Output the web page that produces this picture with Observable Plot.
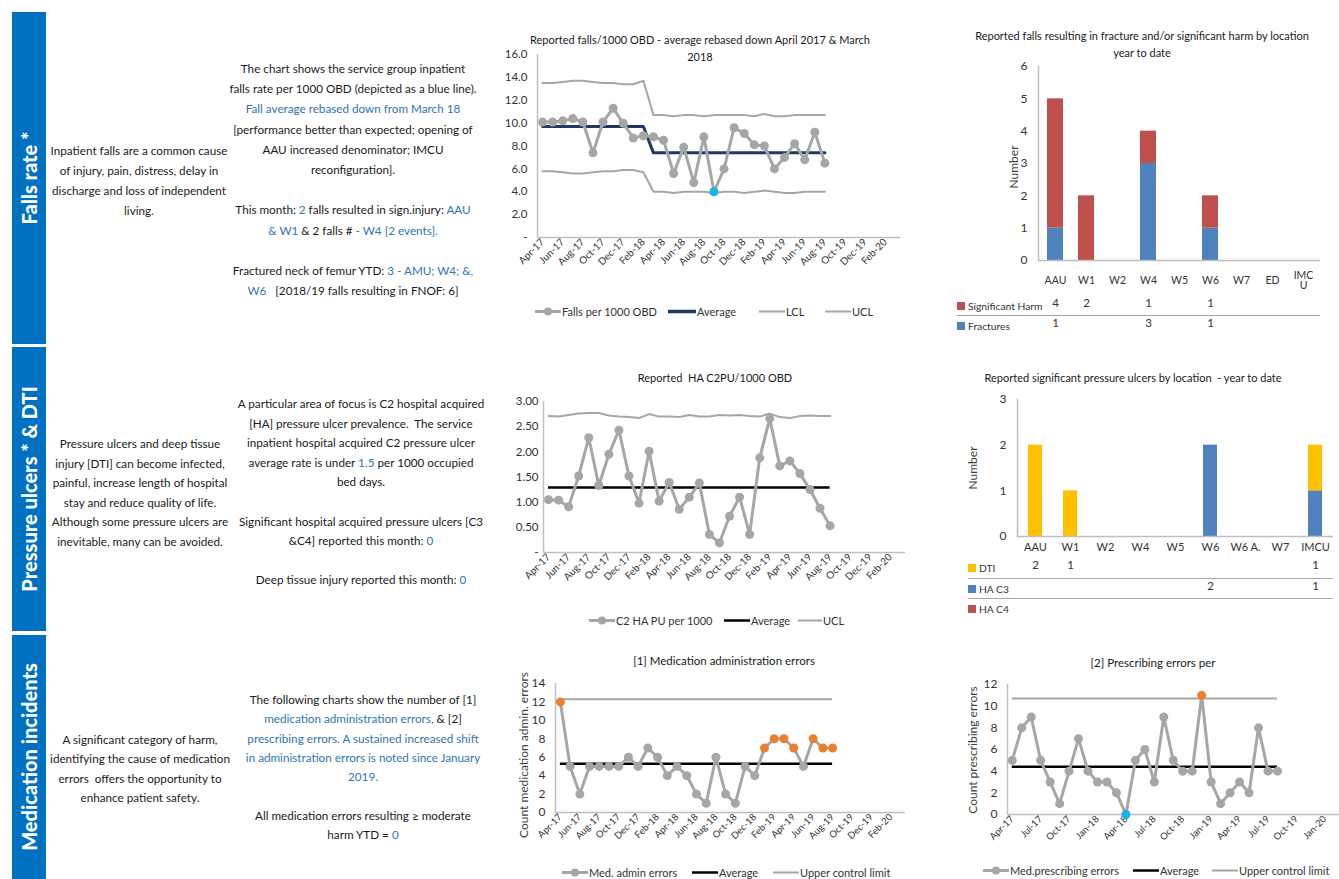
<!DOCTYPE html>
<html>
<head>
<meta charset="utf-8">
<script src="https://cdn.jsdelivr.net/npm/d3@7"></script>
<script src="https://cdn.jsdelivr.net/npm/@observablehq/plot@0.6"></script>
<style>
  body { margin: 0; width: 1339px; height: 879px; overflow: hidden; background: #fff; position: relative;
         font-family: Lato, "Open Sans", sans-serif; color: #1a1a1a; }
  .band { position: absolute; left: 12px; width: 34px; background: #0070c0; }
  .band span { position: absolute; left: 50%; top: 50%; transform: translate(-50%, -50%) rotate(-90deg);
               white-space: nowrap; color: #fff; font-weight: 900; font-size: 20px; }
  .para { position: absolute; text-align: center; font-size: 11.7px; white-space: nowrap; transform: translateX(-50%); }
  .b { color: #2e75b6; }
  .ttl { position: absolute; text-align: center; font-size: 11px; line-height: 17px; white-space: nowrap;
         transform: translate(-50%, -50%); color: #1a1a1a; }
  .leg { position: absolute; font-size: 11px; color: #333; display: flex; align-items: center; white-space: nowrap;
         transform: translateY(-50%); }
  .leg svg { margin-right: 1px; }
  .ytitle { position: absolute; white-space: nowrap; font-size: 12px; color: #404040; transform: translate(-50%, -50%) rotate(-90deg); }
  .row { position: absolute; font-size: 10.3px; color: #333; display: flex; align-items: center; transform: translateY(-50%); }
  .row i { display: inline-block; width: 8px; height: 8px; margin-right: 3px; }
  .sep { position: absolute; height: 0; border-top: 1.5px solid #a6a6a6; }
</style>
</head>
<body>

<div class="band" style="top:12px;height:332px"><span>Falls rate *</span></div>
<div class="band" style="top:347px;height:284px"><span>Pressure ulcers * &amp; DTI</span></div>
<div class="band" style="top:635px;height:244px"><span>Medication incidents</span></div>

<div class="para" style="left:139px;top:140px;line-height:20px">
Inpatient falls are a common cause<br>of injury, pain, distress, delay in<br>discharge and loss of independent<br>living.
</div>
<div class="para" style="left:353px;top:58px;line-height:20.2px">
The chart shows the service group inpatient<br>
falls rate per 1000 OBD (depicted as a blue line).<br>
<span class="b">Fall average rebased down from March 18</span><br>
[performance better than expected; opening of<br>
AAU increased denominator; IMCU<br>
reconfiguration].<br><br>
This month: <span class="b">2</span> falls resulted in sign.injury: <span class="b">AAU</span><br>
<span class="b">&amp; W1</span> &amp; 2 falls # <span class="b">- W4 [2 events].</span><br><br>
Fractured neck of femur YTD: <span class="b">3 - AMU; W4; &amp;,</span><br>
<span class="b">W6</span> &nbsp; [2018/19 falls resulting in FNOF: 6]
</div>

<div class="para" style="left:140px;top:434px;line-height:19.6px">
Pressure ulcers and deep tissue<br>injury [DTI] can become infected,<br>painful, increase length of hospital<br>stay and reduce quality of life.<br>Although some pressure ulcers are<br>inevitable, many can be avoided.
</div>
<div class="para" style="left:361px;top:394px;line-height:19.6px">
A particular area of focus is C2 hospital acquired<br>
[HA] pressure ulcer prevalence. &nbsp;The service<br>
inpatient hospital acquired C2 pressure ulcer<br>
average rate is under <span class="b">1.5</span> per 1000 occupied<br>
bed days.<br><br>
Significant hospital acquired pressure ulcers [C3<br>
&amp;C4] reported this month: <span class="b">0</span><br><br>
Deep tissue injury reported this month: <span class="b">0</span>
</div>

<div class="para" style="left:140px;top:730px;line-height:19.3px">
A significant category of harm,<br>identifying the cause of medication<br>errors &nbsp;offers the opportunity to<br>enhance patient safety.
</div>
<div class="para" style="left:363px;top:690px;line-height:19.3px">
The following charts show the number of [1]<br>
<span class="b">medication administration errors,</span> &amp; [2]<br>
<span class="b">prescribing errors. A sustained increased shift</span><br>
<span class="b">in administration errors is noted since January</span><br>
<span class="b">2019.</span><br><br>
All medication errors resulting &ge; moderate<br>
harm YTD = <span class="b">0</span>
</div>

<div class="ttl" style="left:700px;top:48px">Reported falls/1000 OBD - average rebased down April 2017 &amp; March<br>2018</div>
<div class="ttl" style="left:1142px;top:44px">Reported falls resulting in fracture and/or significant harm by location<br>year to date</div>
<div class="ttl" style="left:715px;top:377px">Reported &nbsp;HA C2PU/1000 OBD</div>
<div class="ttl" style="left:1133px;top:377px">Reported significant pressure ulcers by location &nbsp;- year to date</div>
<div class="ttl" style="left:724px;top:660px;font-size:11.5px">[1] Medication administration errors</div>
<div class="ttl" style="left:1153px;top:662px;font-size:11.5px">[2] Prescribing errors per</div>

<div class="ytitle" style="left:1013px;top:167px">Number</div>
<div class="ytitle" style="left:972px;top:468px">Number</div>
<div class="ytitle" style="left:523px;top:755px">Count medication admin. errors</div>
<div class="ytitle" style="left:972px;top:750px">Count prescribing errors</div>

<script>
// Shared month categories for the monthly run charts
const months = ["Apr-17","May-17","Jun-17","Jul-17","Aug-17","Sep-17","Oct-17","Nov-17","Dec-17",
  "Jan-18","Feb-18","Mar-18","Apr-18","May-18","Jun-18","Jul-18","Aug-18","Sep-18","Oct-18","Nov-18","Dec-18",
  "Jan-19","Feb-19","Mar-19","Apr-19","May-19","Jun-19","Jul-19","Aug-19","Sep-19","Oct-19","Nov-19","Dec-19",
  "Jan-20","Feb-20","Mar-20"];

// Falls per 1000 OBD
const fallsRate = [10.1,10.1,10.2,10.4,10.1,7.4,10.1,11.3,10.0,8.7,8.9,8.8,8.5,5.6,7.9,4.8,8.8,4.0,6.0,9.6,9.1,8.1,8.0,6.0,7.0,8.2,6.8,9.2,6.5];
const fallsAverage = [9.7,9.7,9.7,9.7,9.7,9.7,9.7,9.7,9.7,9.7,9.7,7.4,7.4,7.4,7.4,7.4,7.4,7.4,7.4,7.4,7.4,7.4,7.4,7.4,7.4,7.4,7.4,7.4,7.4];
const fallsUCL = [13.5,13.5,13.6,13.7,13.7,13.6,13.5,13.5,13.4,13.4,13.7,10.7,10.7,10.6,10.7,10.7,10.6,10.7,10.7,10.7,10.7,10.6,10.8,10.6,10.6,10.7,10.7,10.7,10.7];
const fallsLCL = [5.8,5.8,5.7,5.6,5.6,5.7,5.8,5.8,5.9,5.9,5.7,4.0,4.0,3.9,4.0,4.0,4.0,3.9,4.0,4.0,3.9,4.0,4.1,4.0,3.9,3.9,4.0,4.0,4.0];
const fallsLow = ["Sep-18"];

// Falls with fracture / significant harm by location
const fallLocations = ["AAU","W1","W2","W4","W5","W6","W7","ED","IMCU"];
const harmCounts = [4,2,0,1,0,1,0,0,0];
const fractureCounts = [1,0,0,3,0,1,0,0,0];

// C2 hospital acquired pressure ulcers per 1000 OBD
const puRate = [1.05,1.04,0.91,1.52,2.28,1.33,1.95,2.43,1.52,0.98,2.01,1.02,1.39,0.86,1.10,1.38,0.36,0.19,0.72,1.10,0.36,1.88,2.66,1.72,1.82,1.57,1.25,0.88,0.53];
const puUCL = [2.71,2.70,2.73,2.76,2.77,2.77,2.72,2.70,2.69,2.67,2.75,2.70,2.70,2.69,2.73,2.70,2.70,2.73,2.72,2.73,2.71,2.70,2.76,2.69,2.67,2.71,2.72,2.71,2.71];
const puAverage = [1.29];

// Significant pressure ulcers by location
const puLocations = ["AAU","W1","W2","W4","W5","W6","W6 A.","W7","IMCU"];
const dtiCounts = [2,1,0,0,0,0,0,0,1];
const haC3Counts = [0,0,0,0,0,2,0,0,1];
const haC4Counts = [0,0,0,0,0,0,0,0,0];

// Medication administration errors
const adminErrors = [12,5,2,5,5,5,5,6,5,7,6,4,5,4,2,1,6,2,1,5,4,7,8,8,7,5,8,7,7];
const adminAverage = [5.3];
const adminUCL = [12.3];
const adminSignal = ["Apr-17","Jan-19","Feb-19","Mar-19","Apr-19","Jun-19","Jul-19","Aug-19"];

// Prescribing errors
const prescribingErrors = [5,8,9,5,3,1,4,7,4,3,3,2,0,5,6,3,9,5,4,4,11,3,1,2,3,2,8,4,4];
const prescribingAverage = [4.4];
const prescribingUCL = [10.7];
const prescribingHigh = ["Dec-18"];
const prescribingLow = ["Apr-18"];

const FONT = 'Lato, "Open Sans", sans-serif';
const GREY = "#a6a6a6", AXIS = "#bfbfbf", NAVY = "#1f3864", ORANGE = "#ed7d31", CYAN = "#1cb0ea";
const RED = "#c0504d", BLUE = "#4f81bd", GOLD = "#ffc000";
const style = {fontFamily: FONT, fontSize: "11px", color: "#333", background: "transparent", overflow: "visible"};

const indexed = a => a.map((v, i) => ({i, v, m: months[i]}));

function mount(node, left, top) {
  node.style.position = "absolute";
  node.style.left = left + "px";
  node.style.top = top + "px";
  document.body.append(node);
}

function legendItem(x, y, label, color, withDot, width = 26, sw = 3) {
  const div = document.createElement("div");
  div.className = "leg";
  div.style.left = x + "px";
  div.style.top = y + "px";
  const ns = "http://www.w3.org/2000/svg";
  const svg = document.createElementNS(ns, "svg");
  svg.setAttribute("width", width);
  svg.setAttribute("height", 10);
  const line = document.createElementNS(ns, "line");
  line.setAttribute("x1", 0); line.setAttribute("x2", width);
  line.setAttribute("y1", 5); line.setAttribute("y2", 5);
  line.setAttribute("stroke", color); line.setAttribute("stroke-width", sw);
  svg.append(line);
  if (withDot) {
    const c = document.createElementNS(ns, "circle");
    c.setAttribute("cx", width / 2); c.setAttribute("cy", 5); c.setAttribute("r", 4);
    c.setAttribute("fill", color);
    svg.append(c);
  }
  div.append(svg);
  div.append(document.createTextNode(label));
  document.body.append(div);
}

function tableRow(x, y, label, color) {
  const div = document.createElement("div");
  div.className = "row";
  div.style.left = x + "px";
  div.style.top = y + "px";
  const sq = document.createElement("i");
  sq.style.background = color;
  div.append(sq, document.createTextNode(label));
  document.body.append(div);
}

function separator(x1, x2, y) {
  const div = document.createElement("div");
  div.className = "sep";
  div.style.left = x1 + "px";
  div.style.width = (x2 - x1) + "px";
  div.style.top = y + "px";
  document.body.append(div);
}

// ---- Falls run chart
mount(Plot.plot({
  width: 410, height: 250, marginLeft: 42, marginRight: 5, marginTop: 9, marginBottom: 58, style,
  x: {type: "linear", domain: [-0.5, 35.5]},
  y: {domain: [0, 16]},
  marks: [
    Plot.axisY({ticks: d3.range(0, 17, 2), tickFormat: d => d === 0 ? "-" : d.toFixed(1), tickSize: 0, tickPadding: 10, fontSize: 11.5, label: null}),
    Plot.axisX({ticks: d3.range(0, 36, 2), tickFormat: i => months[i], tickRotate: -45, tickSize: 0, tickPadding: 3, fontSize: 10, label: null}),
    Plot.ruleX([-0.5], {stroke: AXIS, strokeWidth: 1.5}),
    Plot.ruleY([0], {stroke: AXIS, strokeWidth: 1.5}),
    Plot.line(indexed(fallsUCL), {x: "i", y: "v", stroke: GREY, strokeWidth: 2}),
    Plot.line(indexed(fallsLCL), {x: "i", y: "v", stroke: GREY, strokeWidth: 2}),
    Plot.line(indexed(fallsAverage), {x: "i", y: "v", stroke: NAVY, strokeWidth: 3}),
    Plot.line(indexed(fallsRate), {x: "i", y: "v", stroke: GREY, strokeWidth: 3}),
    Plot.dot(indexed(fallsRate), {x: "i", y: "v", r: 4.5, fill: d => fallsLow.includes(d.m) ? CYAN : GREY})
  ]
}), 495, 45);
legendItem(535, 311, "Falls per 1000 OBD", GREY, true);
legendItem(668, 311, "Average", NAVY, false, 28, 3.5);
legendItem(759, 311, "LCL", GREY, false, 26, 2);
legendItem(825, 311, "UCL", GREY, false, 26, 2);

// ---- Falls with fracture / significant harm by location
const fallRows = [
  ...fallLocations.map((loc, k) => ({loc, type: "Fractures", value: fractureCounts[k]})),
  ...fallLocations.map((loc, k) => ({loc, type: "Significant Harm", value: harmCounts[k]}))
];
mount(Plot.plot({
  width: 399, height: 280, marginLeft: 98, marginRight: 19, marginTop: 6, marginBottom: 80, style,
  x: {type: "band", domain: fallLocations, paddingInner: 0.49, paddingOuter: 0.245},
  y: {domain: [0, 6]},
  color: {domain: ["Fractures", "Significant Harm"], range: [BLUE, RED]},
  marks: [
    Plot.axisY({ticks: d3.range(0, 7), tickFormat: d => String(d), tickSize: 0, tickPadding: 11, fontSize: 12, label: null}),
    Plot.axisX({tickSize: 0, tickPadding: 20, lineAnchor: "middle", fontSize: 10.5, label: null,
                tickFormat: d => d === "IMCU" ? "IMC\nU" : d}),
    Plot.barY(fallRows, {x: "loc", y: "value", fill: "type"}),
    Plot.frame({anchor: "left", stroke: AXIS, strokeWidth: 1.5}),
    Plot.ruleY([0], {stroke: AXIS, strokeWidth: 1.5}),
    Plot.text(fallRows.filter(d => d.type === "Significant Harm" && d.value > 0),
              {x: "loc", text: "value", frameAnchor: "bottom", dy: 46, fontSize: 11.5}),
    Plot.text(fallRows.filter(d => d.type === "Fractures" && d.value > 0),
              {x: "loc", text: "value", frameAnchor: "bottom", dy: 66, fontSize: 11.5})
  ]
}), 940, 60);
tableRow(957, 306, "Significant Harm", RED);
separator(957, 1320, 315);
tableRow(957, 326, "Fractures", BLUE);

// ---- C2 pressure ulcer run chart
mount(Plot.plot({
  width: 410, height: 230, marginLeft: 48, marginRight: 0, marginTop: 11, marginBottom: 68, style,
  x: {type: "linear", domain: [-0.5, 35.5]},
  y: {domain: [0, 3]},
  marks: [
    Plot.axisY({ticks: d3.range(0, 3.01, 0.5), tickFormat: d => d === 0 ? "-" : d.toFixed(2), tickSize: 0, tickPadding: 5, fontSize: 11.5, label: null}),
    Plot.axisX({ticks: d3.range(0, 36, 2), tickFormat: i => months[i], tickRotate: -45, tickSize: 0, tickPadding: 3, fontSize: 10, label: null}),
    Plot.ruleX([-0.5], {stroke: AXIS, strokeWidth: 1.5}),
    Plot.ruleY([0], {stroke: AXIS, strokeWidth: 1.5}),
    Plot.line(indexed(puUCL), {x: "i", y: "v", stroke: GREY, strokeWidth: 2}),
    Plot.ruleY(puAverage, {x1: 0, x2: puRate.length - 1, stroke: "#000", strokeWidth: 2.5}),
    Plot.line(indexed(puRate), {x: "i", y: "v", stroke: GREY, strokeWidth: 3}),
    Plot.dot(indexed(puRate), {x: "i", y: "v", r: 4.5, fill: GREY})
  ]
}), 495, 390);
legendItem(589, 620, "C2 HA PU per 1000", GREY, true);
legendItem(724, 620, "Average", "#000", false, 26, 2.5);
legendItem(798, 620, "UCL", GREY, false, 24, 2);

// ---- Significant pressure ulcers by location
const puRows = [
  ...puLocations.map((loc, k) => ({loc, type: "HA C3", value: haC3Counts[k]})),
  ...puLocations.map((loc, k) => ({loc, type: "DTI", value: dtiCounts[k]})),
  ...puLocations.map((loc, k) => ({loc, type: "HA C4", value: haC4Counts[k]}))
];
mount(Plot.plot({
  width: 399, height: 230, marginLeft: 77, marginRight: 6, marginTop: 9, marginBottom: 84, style,
  x: {type: "band", domain: puLocations, paddingInner: 0.6, paddingOuter: 0.3},
  y: {domain: [0, 3]},
  color: {domain: ["DTI", "HA C3", "HA C4"], range: [GOLD, BLUE, RED]},
  marks: [
    Plot.axisY({ticks: d3.range(0, 4), tickFormat: d => String(d), tickSize: 0, tickPadding: 11, fontSize: 12, label: null}),
    Plot.axisX({tickSize: 0, tickPadding: 11, lineAnchor: "middle", fontSize: 11, label: null}),
    Plot.barY(puRows, {x: "loc", y: "value", fill: "type"}),
    Plot.frame({anchor: "left", stroke: AXIS, strokeWidth: 1.5}),
    Plot.ruleY([0], {stroke: AXIS, strokeWidth: 1.5}),
    Plot.text(puRows.filter(d => d.type === "DTI" && d.value > 0),
              {x: "loc", text: "value", frameAnchor: "bottom", dy: 32, fontSize: 11.5}),
    Plot.text(puRows.filter(d => d.type === "HA C3" && d.value > 0),
              {x: "loc", text: "value", frameAnchor: "bottom", dy: 53, fontSize: 11.5}),
    Plot.text(puRows.filter(d => d.type === "HA C4" && d.value > 0),
              {x: "loc", text: "value", frameAnchor: "bottom", dy: 73, fontSize: 11.5})
  ]
}), 940, 390);
tableRow(968, 568, "DTI", GOLD);
separator(968, 1333, 578);
tableRow(968, 589, "HA C3", BLUE);
separator(968, 1333, 598);
tableRow(968, 609, "HA C4", RED);

// ---- Medication administration errors
mount(Plot.plot({
  width: 410, height: 209, marginLeft: 60, marginRight: 0, marginTop: 13, marginBottom: 67, style,
  x: {type: "linear", domain: [-0.5, 35.5]},
  y: {domain: [0, 14]},
  marks: [
    Plot.axisY({ticks: d3.range(0, 15, 2), tickSize: 0, tickPadding: 10, fontSize: 12, label: null}),
    Plot.axisX({ticks: d3.range(0, 36, 2), tickFormat: i => months[i], tickRotate: -45, tickSize: 0, tickPadding: 3, fontSize: 9.5, label: null}),
    Plot.ruleX([-0.5], {stroke: AXIS, strokeWidth: 1.5}),
    Plot.ruleY([0], {stroke: AXIS, strokeWidth: 1.5}),
    Plot.ruleY(adminUCL, {x1: 0, x2: adminErrors.length - 1, stroke: GREY, strokeWidth: 2}),
    Plot.ruleY(adminAverage, {x1: 0, x2: adminErrors.length - 1, stroke: "#000", strokeWidth: 2.5}),
    Plot.line(indexed(adminErrors), {x: "i", y: "v", stroke: GREY, strokeWidth: 3}),
    Plot.dot(indexed(adminErrors), {x: "i", y: "v", r: 4.5, fill: d => adminSignal.includes(d.m) ? ORANGE : GREY})
  ]
}), 495, 670);
legendItem(562, 872, "Med. admin errors", GREY, true);
legendItem(692, 872, "Average", "#000", false, 26, 2.5);
legendItem(773, 872, "Upper control limit", GREY, false, 26, 2);

// ---- Prescribing errors
mount(Plot.plot({
  width: 410, height: 209, marginLeft: 67, marginRight: 2, marginTop: 14, marginBottom: 65, style,
  x: {type: "linear", domain: [-0.5, 35.5]},
  y: {domain: [0, 12]},
  marks: [
    Plot.axisY({ticks: d3.range(0, 13, 2), tickSize: 0, tickPadding: 10, fontSize: 12, label: null}),
    Plot.axisX({ticks: d3.range(0, 36, 3), tickFormat: i => months[i], tickRotate: -45, tickSize: 0, tickPadding: 3, fontSize: 9.5, label: null}),
    Plot.ruleX([-0.5], {stroke: AXIS, strokeWidth: 1.5}),
    Plot.ruleY([0], {stroke: AXIS, strokeWidth: 1.5}),
    Plot.ruleY(prescribingUCL, {x1: 0, x2: prescribingErrors.length - 1, stroke: GREY, strokeWidth: 2}),
    Plot.ruleY(prescribingAverage, {x1: 0, x2: prescribingErrors.length - 1, stroke: "#000", strokeWidth: 2.5}),
    Plot.line(indexed(prescribingErrors), {x: "i", y: "v", stroke: GREY, strokeWidth: 3}),
    Plot.dot(indexed(prescribingErrors), {x: "i", y: "v", r: 4.5,
      fill: d => prescribingHigh.includes(d.m) ? ORANGE : prescribingLow.includes(d.m) ? CYAN : GREY})
  ]
}), 940, 670);
legendItem(983, 870, "Med.prescribing errors", GREY, true);
legendItem(1133, 870, "Average", "#000", false, 26, 2.5);
legendItem(1212, 870, "Upper control limit", GREY, false, 26, 2);
</script>
</body>
</html>
